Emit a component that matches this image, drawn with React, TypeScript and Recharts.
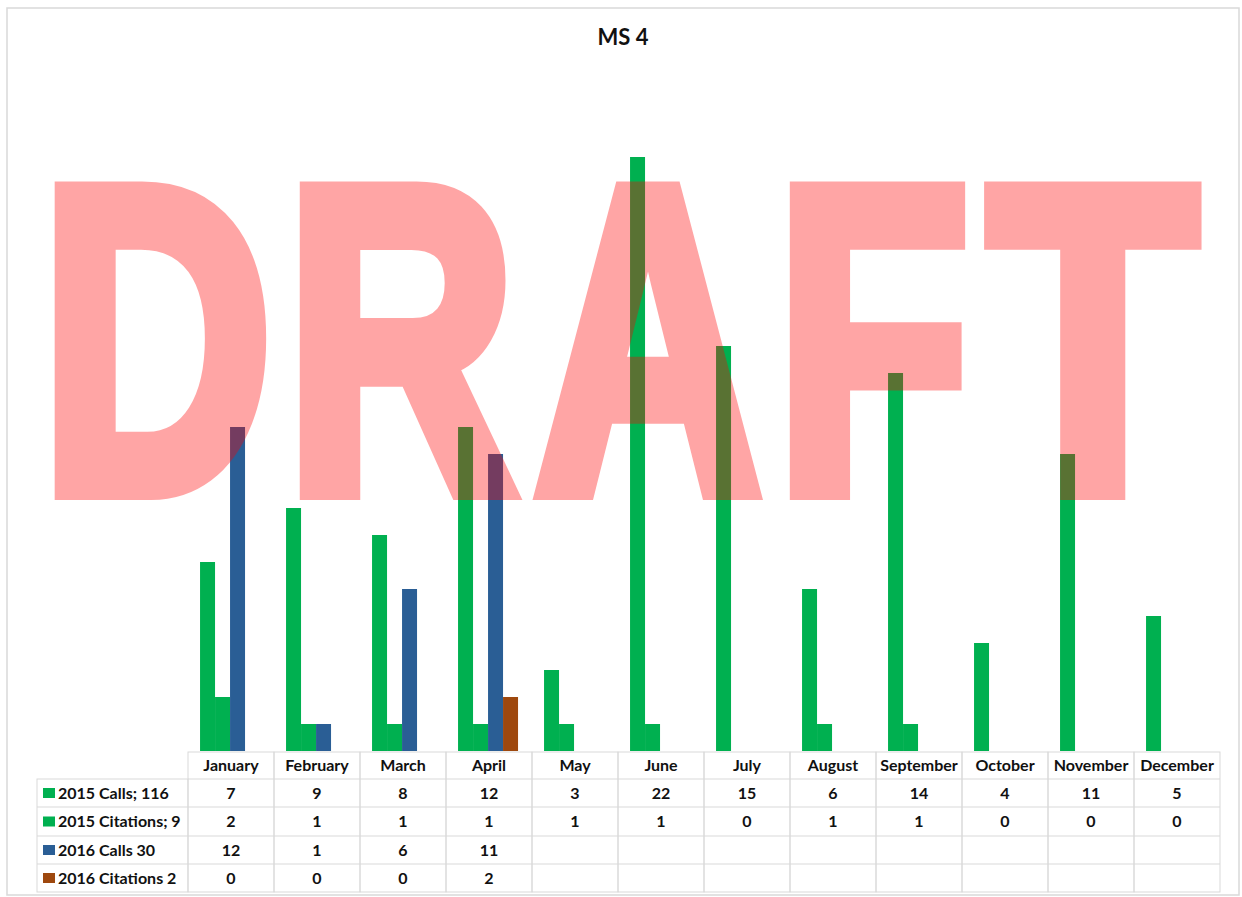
import React from 'react';
import { BarChart, Bar, XAxis, YAxis } from 'recharts';

const months = ['January', 'February', 'March', 'April', 'May', 'June', 'July', 'August', 'September', 'October', 'November', 'December'];
const calls2015 = [7, 9, 8, 12, 3, 22, 15, 6, 14, 4, 11, 5];
const citations2015 = [2, 1, 1, 1, 1, 1, 0, 1, 1, 0, 0, 0];
const calls2016: (number | null)[] = [12, 1, 6, 11, null, null, null, null, null, null, null, null];
const citations2016: (number | null)[] = [0, 0, 0, 2, null, null, null, null, null, null, null, null];

const seriesNames = ['2015 Calls; 116', '2015 Citations; 9', '2016 Calls 30', '2016 Citations 2'];
const seriesKeys = ['c15', 't15', 'c16', 't16'];
const seriesColors = ['#00B050', '#00B050', '#2A5E95', '#9E480E'];
const seriesValues = [calls2015, citations2015, calls2016, citations2016];

const data = months.map((m, i) => {
  const row: any = { month: m };
  seriesKeys.forEach((k, s) => {
    row[k] = seriesValues[s][i];
  });
  return row;
});

// watermark letters: [glyph, left ink x, scaleX, glyph ink xmin (em/1000)]
const watermarkLetters = ['D', 'R', 'A', 'F', 'T'];
const watermarkLeft = [65, 310, 535, 800, 995];
const watermarkScale = [0.739, 0.733, 0.721, 0.73, 0.789];
const watermarkXmin = [76, 76, 0, 76, 20];

const W = 1242;
const H = 897;
const FONT = 'Lato, "Open Sans", sans-serif';
const GRID = '#d9d9d9';
const TXT = '#111';
// row boundaries relative to axis top
const ROWS = [1, 28, 56, 85, 113, 141];

function TableTick(props: any) {
  const { x, y, payload, index } = props;
  const band = (props.width || 1032) / months.length;
  const left = x - band / 2;
  const right = x + band / 2;
  const tops = ROWS.map((r) => y + r);
  const cells: React.ReactNode[] = [];
  cells.push(
    <rect key="col" x={left} y={tops[0]} width={band} height={tops[5] - tops[0]} fill="none" stroke={GRID} strokeWidth={1} />
  );
  for (let r = 1; r < 5; r++) {
    cells.push(<line key={'h' + r} x1={left} x2={right} y1={tops[r]} y2={tops[r]} stroke={GRID} strokeWidth={1} />);
  }
  cells.push(
    <text key="hdr" x={x} y={(tops[0] + tops[1]) / 2 + 5.5} textAnchor="middle" fontFamily={FONT} fontWeight={700} fontSize={16} fill={TXT}>
      {payload.value}
    </text>
  );
  seriesValues.forEach((vals, s) => {
    const v = vals[index];
    if (v === null || v === undefined) return;
    cells.push(
      <text key={'v' + s} x={x} y={(tops[s + 1] + tops[s + 2]) / 2 + 5.5} textAnchor="middle" fontFamily={FONT} fontWeight={700} fontSize={16} fill={TXT}>
        {v}
      </text>
    );
  });
  if (index === 0) {
    const labLeft = 37;
    cells.push(
      <rect key="labbox" x={labLeft} y={tops[1]} width={left - labLeft} height={tops[5] - tops[1]} fill="none" stroke={GRID} strokeWidth={1} />
    );
    for (let r = 2; r < 5; r++) {
      cells.push(<line key={'lh' + r} x1={labLeft} x2={left} y1={tops[r]} y2={tops[r]} stroke={GRID} strokeWidth={1} />);
    }
    seriesNames.forEach((n, s) => {
      const cy = (tops[s + 1] + tops[s + 2]) / 2;
      cells.push(<rect key={'sq' + s} x={43} y={cy - 5} width={12} height={10} fill={seriesColors[s]} />);
      cells.push(
        <text key={'ln' + s} x={58} y={cy + 5.5} textAnchor="start" fontFamily={FONT} fontWeight={700} fontSize={16} fill={TXT}>
          {n}
        </text>
      );
    });
  }
  return <g>{cells}</g>;
}

const WM_SIZE = 434;

export default function App() {
  return (
    <div style={{ position: 'absolute', left: 0, top: 0, width: W, height: H, background: '#fff' }}>
      <BarChart
        width={W}
        height={H}
        data={data}
        margin={{ top: 76, right: 22, bottom: 0, left: 188 }}
        barCategoryGap="14%"
        barGap={0}
      >
        <XAxis dataKey="month" height={146} axisLine={false} tickLine={false} tickSize={0} tickMargin={0} interval={0} tick={<TableTick />} />
        <YAxis hide domain={[0, 25]} />
        {seriesKeys.map((k, s) => (
          <Bar key={k} dataKey={k} name={seriesNames[s]} fill={seriesColors[s]} isAnimationActive={false} />
        ))}
      </BarChart>
      <svg width={W} height={H} style={{ position: 'absolute', left: 0, top: 0, pointerEvents: 'none' }}>
        <rect x={7} y={8} width={1232} height={887} fill="none" stroke={GRID} strokeWidth={1.5} />
        <text x={623} y={45} textAnchor="middle" fontFamily={FONT} fontWeight={700} fontSize={22} fill={TXT}>
          MS 4
        </text>
        <g opacity={0.35}>
          {watermarkLetters.map((ch, i) => {
            const sx = watermarkScale[i];
            const tx = watermarkLeft[i] - (watermarkXmin[i] / 1000) * WM_SIZE * sx;
            return (
              <text
                key={ch}
                x={0}
                y={0}
                transform={`translate(${tx},490) scale(${sx},1)`}
                fontFamily='"Liberation Sans", Arial, sans-serif'
                fontWeight={700}
                fontSize={WM_SIZE}
                fill="#ff0000"
                stroke="#ff0000"
                strokeWidth={20}
              >
                {ch}
              </text>
            );
          })}
        </g>
      </svg>
    </div>
  );
}
